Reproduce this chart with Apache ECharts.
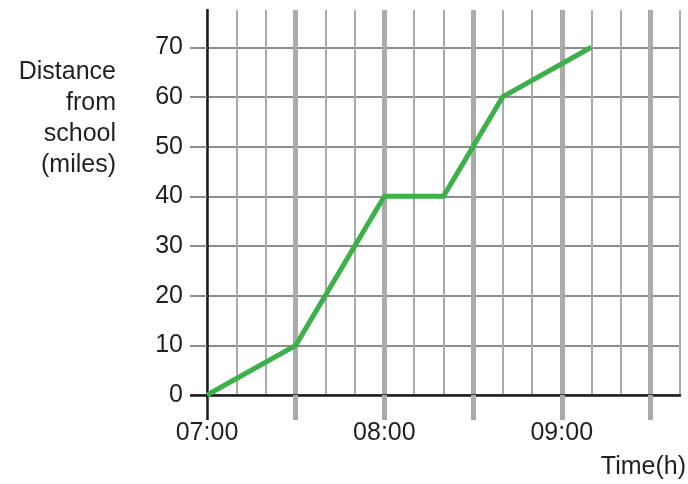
<!DOCTYPE html>
<html>
<head>
<meta charset="utf-8">
<script src="https://cdn.jsdelivr.net/npm/echarts@6/dist/echarts.min.js"></script>
<style>
  html, body { margin: 0; padding: 0; background: #fff; }
  #chart { width: 688px; height: 484px; }
</style>
</head>
<body>
<div id="chart"></div>
<script>
// journey data
const times = ['07:00', '07:30', '08:00', '08:20', '08:40', '09:10'];
const distances = [0, 10, 40, 40, 60, 70];
const yTicks = [0, 10, 20, 30, 40, 50, 60, 70];
const thickTicks = [30, 60, 90, 120, 150]; // minutes after 07:00

const startHour = 7;
function toMin(t) {
  const p = t.split(':');
  return (+p[0] - startHour) * 60 + (+p[1]);
}
function toLabel(m) {
  const h = startHour + Math.floor(m / 60);
  const mm = m % 60;
  return (h < 10 ? '0' : '') + h + ':' + (mm < 10 ? '0' : '') + mm;
}

const chart = echarts.init(document.getElementById('chart'));
const font = 'Liberation Sans, Arial, sans-serif';
const fs = 25;

let option = {
  animation: false,
  grid: { left: 207, right: 8, top: 10, bottom: 89 },
  xAxis: [
    {
      // thin 10 minute lines + hour labels
      type: 'value', min: 0, max: 160, interval: 10,
      axisLine: { lineStyle: { color: '#1a1a1a', width: 2.5 } },
      axisTick: { show: false },
      axisLabel: {
        margin: 26, fontSize: fs, color: '#231f20', fontFamily: font,
        formatter: v => (v % 60 === 0 ? toLabel(v) : '')
      },
      splitLine: { show: true, lineStyle: { color: '#aaaaaa', width: 2 } }
    },
    {
      // thick half hour lines
      type: 'value', min: 0, max: 160, interval: 10, position: 'bottom',
      axisLine: { show: false },
      axisLabel: { show: false },
      axisTick: { show: true, customValues: thickTicks, length: 25, lineStyle: { color: '#aaaaaa', width: 5 } },
      splitLine: { show: true, lineStyle: { color: '#aaaaaa', width: 5 } }
    },
    {
      // black tick under 07:00
      type: 'value', min: 0, max: 160, interval: 10, position: 'bottom',
      axisLine: { show: false },
      axisLabel: { show: false },
      axisTick: { show: true, customValues: [0], length: 25, lineStyle: { color: '#1a1a1a', width: 2.5 } },
      splitLine: { show: false }
    }
  ],
  yAxis: [
    {
      type: 'value', min: 0, max: 77.5, interval: 10,
      axisLine: { show: true, lineStyle: { color: '#1a1a1a', width: 2.5 } },
      axisTick: { show: true, customValues: yTicks, length: 17, lineStyle: { color: '#8c8c8c', width: 2 } },
      axisLabel: {
        customValues: yTicks,
        margin: 24, fontSize: fs, color: '#231f20', fontFamily: font
      },
      splitLine: { show: true, lineStyle: { color: '#8c8c8c', width: 2 } }
    },
    {
      type: 'value', min: 0, max: 77.5, interval: 10, position: 'left',
      axisLine: { show: false },
      axisLabel: { show: false },
      splitLine: { show: false },
      axisTick: { show: true, customValues: [0], length: 17, lineStyle: { color: '#1a1a1a', width: 2.5 } }
    }
  ],
  graphic: [
    {
      type: 'text', x: 116, y: 57,
      style: {
        text: 'Distance\nfrom\nschool\n(miles)',
        align: 'right', fontSize: fs, lineHeight: 31, fill: '#231f20', fontFamily: font
      }
    },
    {
      type: 'text', x: 686, y: 455,
      style: { text: 'Time(h)', align: 'right', fontSize: fs, fill: '#231f20', fontFamily: font }
    }
  ],
  series: [
    {
      type: 'line',
      data: times.map((t, i) => [toMin(t), distances[i]]),
      showSymbol: false,
      lineStyle: { color: '#3cb049', width: 5, join: 'miter' },
      z: 5
    }
  ]
};
chart.setOption(option);
</script>
</body>
</html>
